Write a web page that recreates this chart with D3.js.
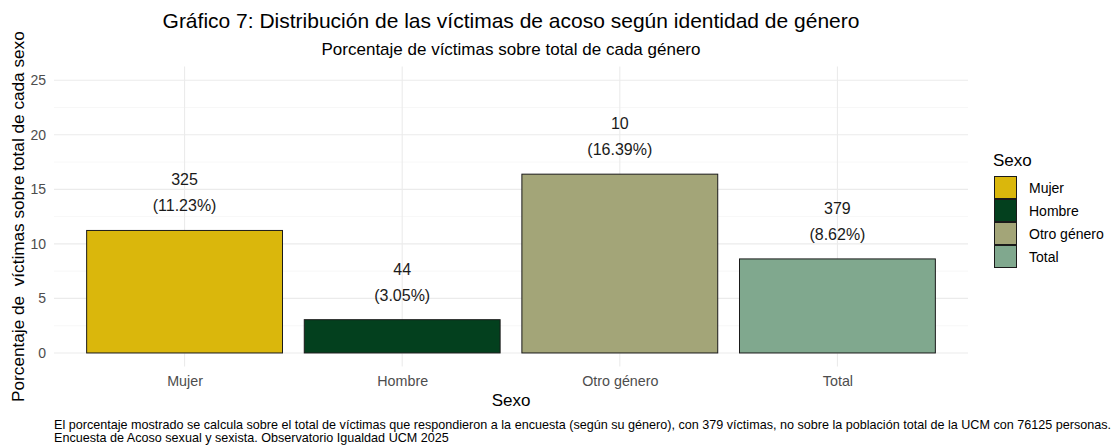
<!DOCTYPE html>
<html lang="es">
<head>
<meta charset="UTF-8">
<title>Gráfico 7</title>
<script src="https://d3js.org/d3.v7.min.js"></script>
<style>
  body { margin: 0; background: #fff; }
  svg text { font-family: "Liberation Sans", Arial, sans-serif; }
</style>
</head>
<body>
<div id="chart"></div>
<script>
// datos
const categorias = ["Mujer", "Hombre", "Otro género", "Total"];
const porcentajes = [11.23, 3.05, 16.39, 8.62];
const victimas = [325, 44, 10, 379];
const colores = ["#DAB70C", "#03401E", "#A3A578", "#80A88E"];
const yTicks = [0, 5, 10, 15, 20, 25];
const yMinor = [2.5, 7.5, 12.5, 17.5, 22.5];

const width = 1118, height = 445;
const margin = { top: 66.6, right: 150, bottom: 78.4, left: 54 };

const svg = d3.select("#chart").append("svg")
    .attr("width", width)
    .attr("height", height);

// escalas (expansión estilo ggplot)
const x = d3.scalePoint()
    .domain(categorias)
    .range([margin.left, width - margin.right])
    .padding(0.6);

const y = d3.scaleLinear()
    .domain([-1.25, 26.25])
    .range([height - margin.bottom, margin.top]);

const barW = x.step() * 0.9;

// rejilla
const grid = svg.append("g");
grid.selectAll(".minor").data(yMinor).enter().append("line")
    .attr("x1", margin.left).attr("x2", width - margin.right)
    .attr("y1", d => y(d)).attr("y2", d => y(d))
    .attr("stroke", "#f2f2f2").attr("stroke-width", 0.6);
grid.selectAll(".major").data(yTicks).enter().append("line")
    .attr("x1", margin.left).attr("x2", width - margin.right)
    .attr("y1", d => y(d)).attr("y2", d => y(d))
    .attr("stroke", "#ebebeb").attr("stroke-width", 1.1);
grid.selectAll(".vmajor").data(categorias).enter().append("line")
    .attr("x1", d => x(d)).attr("x2", d => x(d))
    .attr("y1", margin.top).attr("y2", height - margin.bottom)
    .attr("stroke", "#ebebeb").attr("stroke-width", 1.1);

// ejes
const yAxis = svg.append("g")
    .attr("transform", "translate(" + margin.left + ",0)")
    .call(d3.axisLeft(y).tickValues(yTicks).tickSize(0).tickPadding(8));
yAxis.select(".domain").remove();
yAxis.selectAll("text").attr("fill", "#4d4d4d").style("font-size", "14px");

const xAxis = svg.append("g")
    .attr("transform", "translate(0," + (height - margin.bottom) + ")")
    .call(d3.axisBottom(x).tickSize(0).tickPadding(9));
xAxis.select(".domain").remove();
xAxis.selectAll("text").attr("fill", "#4d4d4d").style("font-size", "14.3px");

// barras
svg.selectAll(".bar").data(categorias).enter().append("rect")
    .attr("x", d => x(d) - barW / 2)
    .attr("width", barW)
    .attr("y", (d, i) => y(porcentajes[i]))
    .attr("height", (d, i) => y(0) - y(porcentajes[i]))
    .attr("fill", (d, i) => colores[i])
    .attr("stroke", "#1a1a1a")
    .attr("stroke-width", 1);

// etiquetas
const lab = svg.selectAll(".lab").data(categorias).enter().append("text")
    .attr("text-anchor", "middle")
    .attr("x", d => x(d))
    .attr("y", (d, i) => y(porcentajes[i]) - 45)
    .attr("fill", "#1a1a1a")
    .style("font-size", "16px");
lab.append("tspan").attr("x", d => x(d)).text((d, i) => victimas[i]);
lab.append("tspan").attr("x", d => x(d)).attr("dy", 26)
    .text((d, i) => "(" + porcentajes[i].toFixed(2) + "%)");

// títulos
const cx = (margin.left + width - margin.right) / 2;
svg.append("text").attr("x", cx).attr("y", 28).attr("text-anchor", "middle")
    .style("font-size", "21px").attr("fill", "#000")
    .text("Gráfico 7: Distribución de las víctimas de acoso según identidad de género");
svg.append("text").attr("x", cx).attr("y", 55).attr("text-anchor", "middle")
    .style("font-size", "17px").attr("fill", "#000")
    .text("Porcentaje de víctimas sobre total de cada género");
svg.append("text").attr("x", cx).attr("y", 406).attr("text-anchor", "middle")
    .style("font-size", "17px").attr("fill", "#000").text("Sexo");
svg.append("text")
    .attr("transform", "translate(24," + ((margin.top + height - margin.bottom) / 2) + ") rotate(-90)")
    .attr("text-anchor", "middle")
    .style("font-size", "17.2px").attr("fill", "#000")
    .style("white-space", "pre")
    .text("Porcentaje de  víctimas sobre total de cada sexo");

// leyenda
const leg = svg.append("g").attr("transform", "translate(994,0)");
leg.append("text").attr("x", -1).attr("y", 166).style("font-size", "17px").text("Sexo");
const key = leg.selectAll(".key").data(categorias).enter().append("g")
    .attr("transform", (d, i) => "translate(0," + (176 + i * 23) + ")");
key.append("rect").attr("x", 0.5).attr("y", 0.5).attr("width", 22).attr("height", 22)
    .attr("fill", (d, i) => colores[i]).attr("stroke", "#1a1a1a").attr("stroke-width", 1);
key.append("text").attr("x", 35).attr("y", 16.5).style("font-size", "14px").text(d => d);

// pie
svg.append("text").attr("x", 54).attr("y", 429).style("font-size", "12.6px")
    .text("El porcentaje mostrado se calcula sobre el total de víctimas que respondieron a la encuesta (según su género), con 379 víctimas, no sobre la población total de la UCM con 76125 personas.");
svg.append("text").attr("x", 54).attr("y", 441.5).style("font-size", "12.6px")
    .text("Encuesta de Acoso sexual y sexista. Observatorio Igualdad UCM 2025");
</script>
</body>
</html>
